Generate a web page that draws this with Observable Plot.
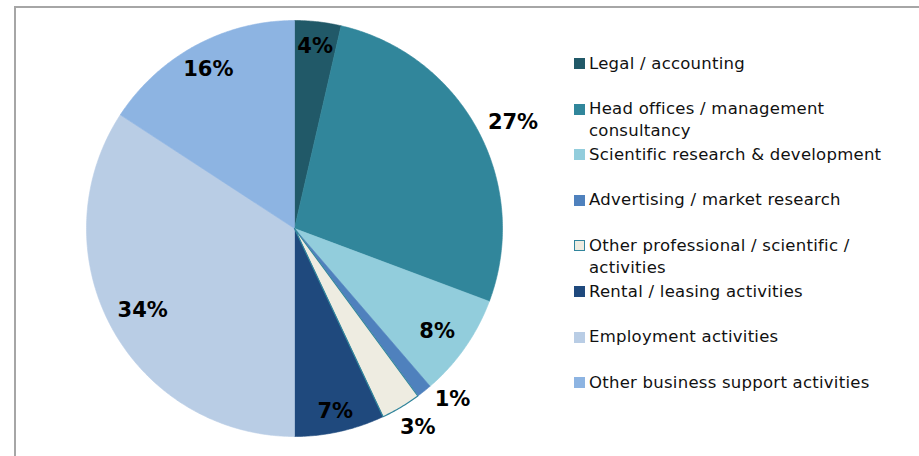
<!DOCTYPE html>
<html>
<head>
<meta charset="utf-8">
<script src="https://cdn.jsdelivr.net/npm/d3@7"></script>
<script src="https://cdn.jsdelivr.net/npm/@observablehq/plot@0.6"></script>
<style>
  html, body { margin: 0; padding: 0; background: #fff; }
  #wrap { position: relative; width: 919px; height: 456px; overflow: hidden; font-family: "DejaVu Sans", Verdana, sans-serif; }
  #frame { position: absolute; left: 14px; top: 6px; width: 1000px; height: 1000px; border-top: 2px solid #a6a6a6; border-left: 2px solid #a6a6a6; box-sizing: border-box; }
  #chart { position: absolute; left: 0; top: 0; }
  .leg { position: absolute; left: 574px; }
  .sw { position: absolute; left: 0; width: 11px; height: 11px; box-sizing: border-box; }
  .lt { position: absolute; left: 15px; width: 330px; font-size: 16.5px; letter-spacing: 0.25px; line-height: 22px; color: #111; white-space: nowrap; }
</style>
</head>
<body>
<div id="wrap">
  <div id="frame"></div>
  <div id="chart"></div>
  <div id="legend"></div>
</div>
<script>
const categories = [
  "Legal / accounting",
  "Head offices / management consultancy",
  "Scientific research & development",
  "Advertising / market research",
  "Other professional / scientific / activities",
  "Rental / leasing activities",
  "Employment activities",
  "Other business support activities"
];
const values = [3.6, 27.1, 8.0, 1.2, 3.1, 7.0, 34.2, 15.8];
const legendLines = [
  ["Legal / accounting"],
  ["Head offices / management", "consultancy"],
  ["Scientific research & development"],
  ["Advertising / market research"],
  ["Other professional / scientific /", "activities"],
  ["Rental / leasing activities"],
  ["Employment activities"],
  ["Other business support activities"]
];
const colors = ["#215968", "#31869B", "#92CDDC", "#4F81BD", "#EEECE1", "#1F497D", "#B9CDE5", "#8DB4E2"];
const outlined = "Other professional / scientific / activities";

// label placement (radius as fraction of pie radius, plus pixel nudges)
const labelPlace = {
  "Legal / accounting": {f: 0.88, dx: 0, dy: 0},
  "Head offices / management consultancy": {f: 1.16, dx: 6, dy: 8},
  "Scientific research & development": {f: 0.86, dx: -4, dy: 0},
  "Advertising / market research": {f: 1.12, dx: 13, dy: -12},
  "Other professional / scientific / activities": {f: 1.13, dx: 3, dy: -3},
  "Rental / leasing activities": {f: 0.9, dx: 0, dy: 0},
  "Employment activities": {f: 0.83, dx: 0, dy: 0},
  "Other business support activities": {f: 0.87, dx: 0, dy: 0}
};

const total = d3.sum(values);
const pts = [];
const labelRows = [];
let cum = 0;
categories.forEach((c, i) => {
  const a0 = cum / total * 2 * Math.PI;
  cum += values[i];
  const a1 = cum / total * 2 * Math.PI;
  const n = Math.max(2, Math.ceil((a1 - a0) / (Math.PI / 360)) + 1);
  pts.push({cat: c, x: 0, y: 0});
  for (let k = 0; k < n; k++) {
    const a = a0 + (a1 - a0) * k / (n - 1);
    pts.push({cat: c, x: Math.sin(a), y: -Math.cos(a)});
  }
  pts.push({cat: c, x: 0, y: 0});
  const mid = (a0 + a1) / 2;
  const p = labelPlace[c];
  labelRows.push({cat: c, label: Math.round(values[i] / total * 100) + "%", x: p.f * Math.sin(mid), y: -p.f * Math.cos(mid), dx: p.dx, dy: p.dy});
});

const labelMarks = labelRows.map(d =>
  Plot.text([d], {x: "x", y: "y", text: "label", dx: d.dx, dy: d.dy, fontSize: 21, fontWeight: "bold", fill: "#000"})
);

const plot = Plot.plot({
  width: 919,
  height: 456,
  margin: 0,
  x: {domain: [-1, 1], range: [86, 502], axis: null},
  y: {domain: [-1, 1], range: [20, 436], axis: null},
  color: {domain: categories, range: colors},
  style: {fontFamily: "'DejaVu Sans', Verdana, sans-serif", background: "transparent"},
  marks: [
    Plot.line(pts, {x: "x", y: "y", z: "cat", fill: "cat", stroke: "cat", strokeWidth: 0.6}),
    Plot.line(pts.filter(d => d.cat === outlined), {x: "x", y: "y", stroke: "#31859C", strokeWidth: 1.2, fill: "none"}),
    ...labelMarks
  ]
});
document.getElementById("chart").appendChild(plot);

const leg = document.getElementById("legend");
categories.forEach((c, i) => {
  const top = 58 + 45.6 * i;
  const row = document.createElement("div");
  row.className = "leg";
  row.style.top = top + "px";
  const sw = document.createElement("div");
  sw.className = "sw";
  sw.style.top = "0px";
  sw.style.background = colors[i];
  if (c === outlined) sw.style.border = "1.5px solid #31859C";
  const t = document.createElement("div");
  t.className = "lt";
  t.style.top = "-5.5px";
  t.innerHTML = legendLines[i].map(s => s.replace(/&/g, "&amp;")).join("<br>");
  row.appendChild(sw);
  row.appendChild(t);
  leg.appendChild(row);
});
</script>
</body>
</html>
